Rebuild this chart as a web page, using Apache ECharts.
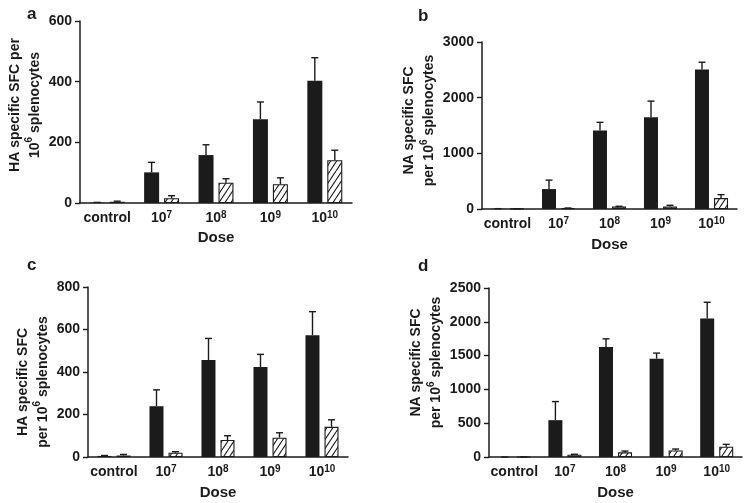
<!DOCTYPE html>
<html>
<head>
<meta charset="utf-8">
<script src="https://cdn.jsdelivr.net/npm/echarts@6/dist/echarts.min.js"></script>
<style>
    html, body { margin: 0; padding: 0; background: #fff; }
    #chart { width: 751px; height: 503px; }
</style>
</head>
<body>
<div id="chart"></div>
<script>
// dose groups (x axis), "10^7" etc is turned into a superscript label
const doses = ['control', '10^7', '10^8', '10^9', '10^10']

// panel a: HA, first experiment
const aSolid = [1, 101, 158, 276, 403]
const aSolidErr = [1, 33, 34, 57, 76]
const aHatch = [4, 16, 67, 62, 141]
const aHatchErr = [2, 8, 13, 21, 33]
const aTicks = [0, 200, 400, 600]

// panel b: NA, first experiment
const bSolid = [4, 358, 1408, 1646, 2505]
const bSolidErr = [2, 161, 149, 292, 131]
const bHatch = [3, 14, 43, 43, 197]
const bHatchErr = [2, 4, 6, 24, 61]
const bTicks = [0, 1000, 2000, 3000]

// panel c: HA, second experiment
const cSolid = [5, 239, 456, 423, 573]
const cSolidErr = [2, 77, 102, 60, 111]
const cHatch = [7, 20, 80, 91, 142]
const cHatchErr = [5, 5, 20, 23, 33]
const cTicks = [0, 200, 400, 600, 800]

// panel d: NA, second experiment
const dSolid = [0, 545, 1626, 1454, 2048]
const dSolidErr = [0, 275, 122, 83, 241]
const dHatch = [0, 34, 69, 98, 152]
const dHatchErr = [0, 6, 19, 20, 35]
const dTicks = [0, 500, 1000, 1500, 2000, 2500]

const FONT = '"Liberation Sans", Arial, Helvetica, sans-serif'
const INK = '#1b1b1b'

// diagonal hatch for the white bars
function makeHatch() {
    const c = document.createElement('canvas')
    c.width = 6
    c.height = 9
    const ctx = c.getContext('2d')
    ctx.fillStyle = '#fff'
    ctx.fillRect(0, 0, 6, 9)
    ctx.strokeStyle = INK
    ctx.lineWidth = 1.1
    for (let k = -1; k <= 1; k++) {
        ctx.beginPath()
        ctx.moveTo(0 + k * 6, 9)
        ctx.lineTo(6 + k * 6, 0)
        ctx.stroke()
    }
    return c
}
const hatch = makeHatch()

const panels = [
    { key: 'a', grid: { left: 80, top: 21, width: 272, height: 182 }, ticks: aTicks,
      solid: aSolid, solidErr: aSolidErr, hatchV: aHatch, hatchErr: aHatchErr,
      name: 'HA specific SFC per\n10{s|6} splenocytes', nameGap: 35, namePad: [0, 0, 0, 14],
      barW: 15, xGap: 27, letter: [27, 14] },
    { key: 'b', grid: { left: 482, top: 42, width: 255, height: 167 }, ticks: bTicks,
      solid: bSolid, solidErr: bSolidErr, hatchV: bHatch, hatchErr: bHatchErr,
      name: 'NA specific SFC\nper 10{s|6} splenocytes', nameGap: 38, namePad: [0, 0, 0, 10],
      barW: 14, xGap: 28, letter: [418, 16] },
    { key: 'c', grid: { left: 88, top: 287, width: 260, height: 170 }, ticks: cTicks,
      solid: cSolid, solidErr: cSolidErr, hatchV: cHatch, hatchErr: cHatchErr,
      name: 'HA specific SFC\nper 10{s|6} splenocytes', nameGap: 28, namePad: [0, 20, 0, 0],
      barW: 14, xGap: 28, letter: [27, 265] },
    { key: 'd', grid: { left: 489, top: 288, width: 253, height: 169 }, ticks: dTicks,
      solid: dSolid, solidErr: dSolidErr, hatchV: dHatch, hatchErr: dHatchErr,
      name: 'NA specific SFC\nper 10{s|6} splenocytes', nameGap: 40, namePad: [0, 0, 0, 20],
      barW: 14, xGap: 28, letter: [418, 266] },
]

const supStyle = { fontSize: 10, fontWeight: 'bold', fontFamily: FONT, color: INK, verticalAlign: 'top', lineHeight: 10 }

function errorSeries(i, vals, errs, offset) {
    return {
        type: 'custom',
        xAxisIndex: i,
        yAxisIndex: i,
        z: 5,
        silent: true,
        data: vals.map((v, k) => [k, v, v + errs[k]]),
        encode: { x: 0, y: [1, 2] },
        renderItem: (params, api) => {
            const lo = api.coord([api.value(0), api.value(1)])
            const hi = api.coord([api.value(0), api.value(2)])
            const x = lo[0] + offset
            const st = { stroke: INK, lineWidth: 1.4 }
            return {
                type: 'group',
                children: [
                    { type: 'line', shape: { x1: x, y1: lo[1], x2: x, y2: hi[1] }, style: st },
                    { type: 'line', shape: { x1: x - 3.5, y1: hi[1], x2: x + 3.5, y2: hi[1] }, style: st },
                ],
            }
        },
    }
}

const option = {
    animation: false,
    backgroundColor: '#fff',
    textStyle: { fontFamily: FONT },
    grid: panels.map(p => Object.assign({}, p.grid)),
    xAxis: panels.map((p, i) => ({
        type: 'category',
        gridIndex: i,
        data: doses,
        name: 'Dose',
        nameLocation: 'middle',
        nameGap: p.xGap,
        nameTextStyle: { fontSize: 15, fontWeight: 'bold', color: INK, fontFamily: FONT },
        axisLine: { lineStyle: { color: INK, width: 1.5 } },
        axisTick: { alignWithLabel: true, length: 5, lineStyle: { color: INK, width: 1.4 } },
        axisLabel: {
            interval: 0,
            hideOverlap: false,
            margin: 7,
            fontSize: 14,
            fontWeight: 'bold',
            color: INK,
            fontFamily: FONT,
            lineHeight: 16,
            formatter: v => {
                if (v.indexOf('^') < 0) return v
                const parts = v.split('^')
                return parts[0] + '{s|' + parts[1] + '}'
            },
            rich: { s: supStyle },
        },
        splitLine: { show: false },
    })),
    yAxis: panels.map((p, i) => ({
        type: 'value',
        gridIndex: i,
        min: 0,
        max: p.ticks[p.ticks.length - 1],
        interval: p.ticks[1] - p.ticks[0],
        name: p.name,
        nameLocation: 'middle',
        nameRotate: 90,
        nameGap: p.nameGap,
        nameTextStyle: {
            fontSize: 14, fontWeight: 'bold', color: INK, fontFamily: FONT,
            lineHeight: 20, align: 'center', padding: p.namePad,
            rich: { s: { fontSize: 10, fontWeight: 'bold', fontFamily: FONT, color: INK, verticalAlign: 'top', lineHeight: 12 } },
        },
        axisLine: { show: true, lineStyle: { color: INK, width: 1.5 } },
        axisTick: { show: true, length: 5, lineStyle: { color: INK, width: 1.4 } },
        axisLabel: {
            margin: 8, fontSize: 14, fontWeight: 'bold', color: INK, fontFamily: FONT,
            formatter: v => String(v),
        },
        splitLine: { show: false },
    })),
    graphic: panels.map(p => ({
        type: 'text',
        x: p.letter[0],
        y: p.letter[1],
        style: { text: p.key, font: 'bold 17px ' + FONT, fill: INK, verticalAlign: 'middle' },
    })),
    series: [],
}

panels.forEach((p, i) => {
    const off = (p.barW + 5) / 2
    option.series.push({
        type: 'bar',
        xAxisIndex: i,
        yAxisIndex: i,
        data: p.solid,
        barWidth: p.barW,
        barGap: (500 / p.barW).toFixed(0) + '%',
        itemStyle: { color: INK },
    })
    option.series.push({
        type: 'bar',
        xAxisIndex: i,
        yAxisIndex: i,
        data: p.hatchV,
        barWidth: p.barW,
        itemStyle: { color: { image: hatch, repeat: 'repeat' }, borderColor: INK, borderWidth: 1.1 },
    })
    option.series.push(errorSeries(i, p.solid, p.solidErr, -off))
    option.series.push(errorSeries(i, p.hatchV, p.hatchErr, off))
})

const myChart = echarts.init(document.getElementById('chart'), null, { renderer: 'canvas' })
myChart.setOption(option)
window.addEventListener('resize', function() {
    myChart.resize()
})
</script>
</body>
</html>
